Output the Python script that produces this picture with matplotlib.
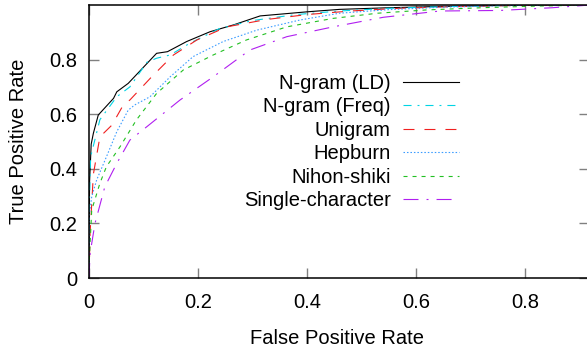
import matplotlib
matplotlib.use("Agg")
import matplotlib.pyplot as plt

plt.rcParams['font.family'] = ['Liberation Sans', 'DejaVu Sans']
plt.rcParams['lines.scale_dashes'] = False

labels = ["N-gram (LD)", "N-gram (Freq)", "Unigram", "Hepburn", "Nihon-shiki", "Single-character"]

ld_fpr = [0, 0.001, 0.004, 0.008, 0.017, 0.045, 0.051, 0.072, 0.124, 0.144, 0.179, 0.222, 0.265, 0.314, 0.40, 0.46, 0.55, 0.65, 0.75, 0.85, 1.0]
ld_tpr = [0, 0.35, 0.49, 0.53, 0.597, 0.658, 0.682, 0.713, 0.823, 0.829, 0.866, 0.902, 0.927, 0.96, 0.975, 0.984, 0.99, 0.995, 0.998, 1.0, 1.0]

freq_fpr = [0, 0.001, 0.003, 0.02, 0.051, 0.075, 0.106, 0.124, 0.149, 0.185, 0.24, 0.30, 0.38, 0.46, 0.55, 0.65, 0.75, 0.85, 1.0]
freq_tpr = [0, 0.3, 0.444, 0.58, 0.664, 0.70, 0.79, 0.805, 0.817, 0.86, 0.914, 0.943, 0.965, 0.978, 0.988, 0.994, 0.998, 1.0, 1.0]

uni_fpr = [0, 0.001, 0.002, 0.008, 0.02, 0.042, 0.063, 0.075, 0.115, 0.155, 0.198, 0.253, 0.326, 0.40, 0.48, 0.57, 0.67, 0.78, 0.9, 1.0]
uni_tpr = [0, 0.08, 0.165, 0.38, 0.517, 0.56, 0.634, 0.652, 0.737, 0.817, 0.872, 0.92, 0.947, 0.965, 0.978, 0.988, 0.994, 0.998, 1.0, 1.0]

hep_fpr = [0, 0.001, 0.005, 0.014, 0.032, 0.051, 0.072, 0.084, 0.112, 0.149, 0.191, 0.246, 0.308, 0.387, 0.46, 0.55, 0.65, 0.75, 0.86, 1.0]
hep_tpr = [0, 0.237, 0.298, 0.359, 0.444, 0.536, 0.615, 0.634, 0.664, 0.737, 0.811, 0.866, 0.908, 0.945, 0.97, 0.983, 0.992, 0.997, 1.0, 1.0]

nih_fpr = [0, 0.0005, 0.005, 0.02, 0.032, 0.057, 0.087, 0.124, 0.173, 0.228, 0.289, 0.363, 0.448, 0.53, 0.62, 0.72, 0.82, 0.92, 1.0]
nih_tpr = [0, 0.066, 0.249, 0.347, 0.408, 0.481, 0.579, 0.676, 0.762, 0.817, 0.872, 0.92, 0.951, 0.97, 0.982, 0.99, 0.996, 1.0, 1.0]

sc_fpr = [0, 0.002, 0.011, 0.029, 0.051, 0.075, 0.106, 0.167, 0.228, 0.295, 0.363, 0.448, 0.54, 0.644, 0.754, 0.85, 0.92, 1.0]
sc_tpr = [0, 0.09, 0.2, 0.334, 0.42, 0.505, 0.554, 0.652, 0.737, 0.835, 0.884, 0.92, 0.955, 0.978, 0.98, 0.99, 1.0, 1.0]

xticks = [0, 0.2, 0.4, 0.6, 0.8]
xticklabels = ["0", "0.2", "0.4", "0.6", "0.8"]
yticks = [0, 0.2, 0.4, 0.6, 0.8]
yticklabels = ["0", "0.2", "0.4", "0.6", "0.8"]

series = [
    (ld_fpr, ld_tpr, '#000000', '-'),
    (freq_fpr, freq_tpr, '#00d4e4', (0, (5.8, 4.3, 1.4, 4.3))),
    (uni_fpr, uni_tpr, '#f02020', (0, (7.9, 7.2))),
    (hep_fpr, hep_tpr, '#3a9cff', (0, (1.1, 1.4))),
    (nih_fpr, nih_tpr, '#22c022', (0, (2.9, 3.6))),
    (sc_fpr, sc_tpr, '#b01ef0', (0, (10.8, 5.8, 1.4, 5.8))),
]

fig = plt.figure(figsize=(5.87, 3.49), dpi=100)
W, H = 587, 349
left, right, top, bottom = 89, 589, 5, 278
ax = fig.add_axes([left / W, 1 - bottom / H, (right - left) / W, (bottom - top) / H])

for (x, y, c, ls), lab in zip(series, labels):
    ax.plot(x, y, color=c, linestyle=ls, lw=0.8, label=lab)

ax.set_xlim(0, (right - left) / 545.0)
ax.set_ylim(0, 1.0)
ax.set_xticks(xticks)
ax.set_xticklabels(xticklabels)
ax.set_yticks(yticks)
ax.set_yticklabels(yticklabels)
ax.tick_params(direction='in', length=7.2, width=1.0, color='#808080',
               top=True, right=True, labelsize=14.5, pad=8.5)
ax.tick_params(axis='x', pad=10.5)
for s in ax.spines.values():
    s.set_linewidth(1.1)

ax.set_xlabel("False Positive Rate", fontsize=14.5)
ax.set_ylabel("True Positive Rate", fontsize=14.5)
ax.xaxis.set_label_coords((337 - left) / (right - left), (bottom - 338) / (bottom - top))
ax.yaxis.set_label_coords((19 - left) / (right - left), 0.5)
ax.xaxis.label.set_va('center')
ax.yaxis.label.set_va('center')

leg = ax.legend(loc='upper right', bbox_to_anchor=(459 / W, 1 - 74 / H),
                bbox_transform=fig.transFigure, frameon=False, markerfirst=False,
                alignment='right', fontsize=14.5, borderpad=0, borderaxespad=0,
                handlelength=2.8, handletextpad=0.6, labelspacing=0.22)

fig.savefig("out.png", dpi=100)
